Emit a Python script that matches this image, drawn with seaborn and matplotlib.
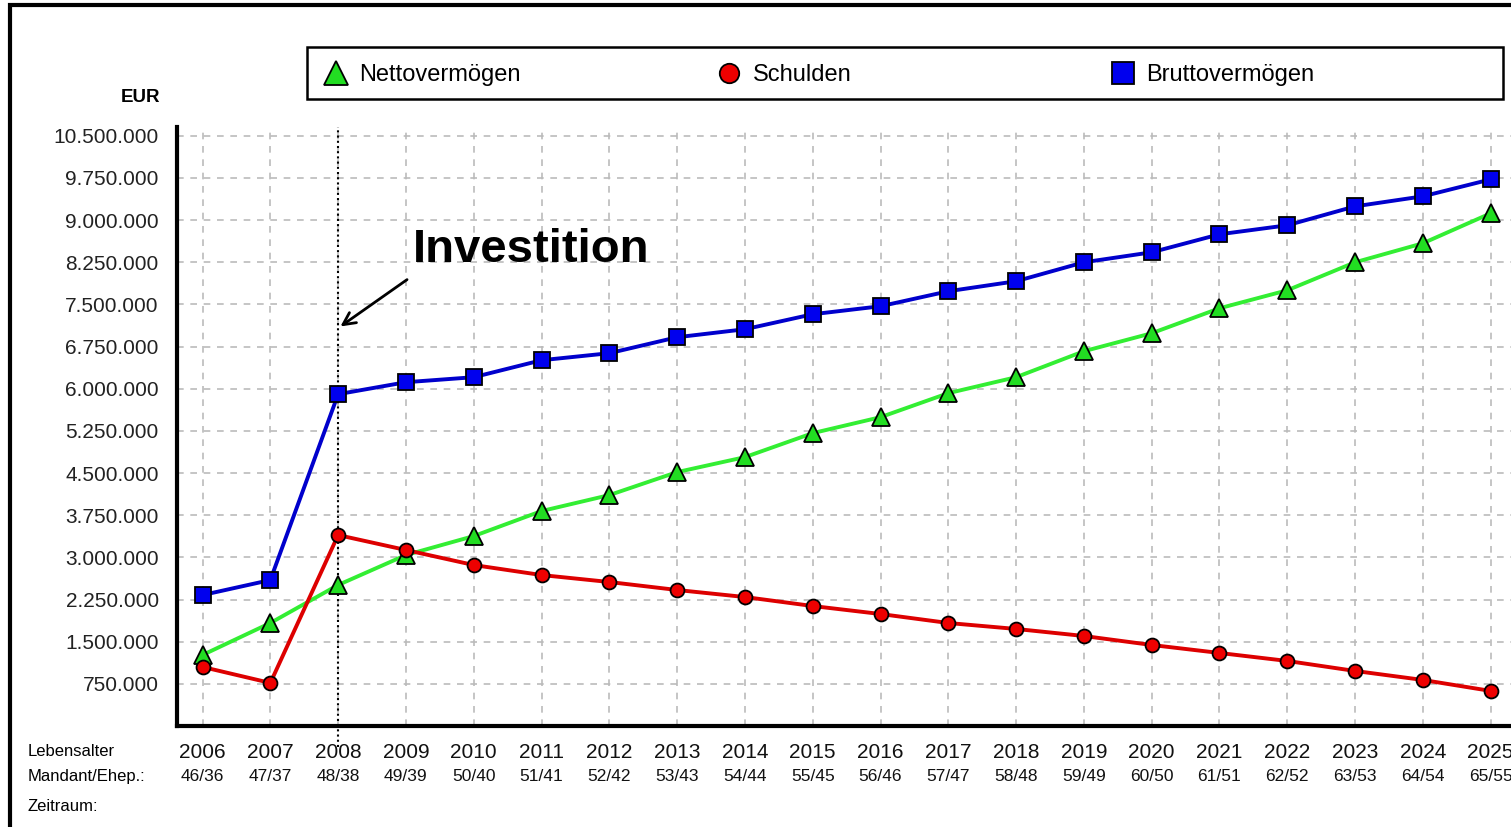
import seaborn as sns
import matplotlib.pyplot as plt
import matplotlib.patches as patches
from matplotlib.lines import Line2D
import pandas as pd

# data
years = list(range(2006, 2026))
ages = ["46/36", "47/37", "48/38", "49/39", "50/40", "51/41", "52/42", "53/43", "54/44", "55/45",
        "56/46", "57/47", "58/48", "59/49", "60/50", "61/51", "62/52", "63/53", "64/54", "65/55"]
netto = [1265000, 1834000, 2510000, 3043000, 3380000, 3825000, 4109000, 4518000, 4784000, 5211000,
         5495000, 5922000, 6206000, 6668000, 6988000, 7432000, 7752000, 8250000, 8588000, 9121000]
schulden = [1052000, 768000, 3398000, 3132000, 2865000, 2687000, 2563000, 2421000, 2296000, 2136000,
            1994000, 1834000, 1728000, 1603000, 1443000, 1301000, 1159000, 981000, 821000, 626000]
brutto = [2331000, 2598000, 5904000, 6117000, 6206000, 6508000, 6633000, 6917000, 7059000, 7326000,
          7468000, 7735000, 7913000, 8250000, 8428000, 8748000, 8908000, 9245000, 9423000, 9725000]
yticks = [750000 * i for i in range(1, 15)]
series = ["Nettovermögen", "Schulden", "Bruttovermögen"]

df = pd.DataFrame({"Jahr": years, "Nettovermögen": netto, "Schulden": schulden, "Bruttovermögen": brutto})
long = df.melt(id_vars="Jahr", var_name="Serie", value_name="EUR")

sns.set_style("white")
plt.rcParams["font.family"] = ["Liberation Sans", "DejaVu Sans"]
plt.rcParams["text.color"] = "black"

line_colors = {"Nettovermögen": "#33ee33", "Schulden": "#dd0000", "Bruttovermögen": "#0000cc"}
marker_colors = {"Nettovermögen": "#22dd22", "Schulden": "#ee0000", "Bruttovermögen": "#0000ee"}
markers = {"Nettovermögen": "^", "Schulden": "o", "Bruttovermögen": "s"}
msizes = {"Nettovermögen": 13, "Schulden": 10, "Bruttovermögen": 11.5}

fig = plt.figure(figsize=(15.11, 8.27), dpi=100)
ax = fig.add_axes([0.117, 0.122, 0.883, 0.724])

# dashed grid behind the lines
ax.set_axisbelow(True)
ax.grid(True, color="#bbbbbb", linestyle=(0, (4, 4)), linewidth=1.2)

for name in series:
    sub = long[long["Serie"] == name]
    sns.lineplot(data=sub, x="Jahr", y="EUR", ax=ax, color=line_colors[name], linewidth=2.8,
                 marker=markers[name], markersize=msizes[name], markerfacecolor=marker_colors[name],
                 markeredgecolor="black", markeredgewidth=1.3, legend=False, zorder=3)

ax.set_xlim(2005.62, 2025.3)
ax.set_ylim(0, 10650000)
ax.set_yticks(yticks)
ax.set_yticklabels([f"{v:,.0f}".replace(",", ".") for v in yticks], fontsize=15, color="#222222")
ax.set_xticks(years)
ax.set_xticklabels([str(y) for y in years], fontsize=15, color="#111111")
ax.tick_params(axis="both", length=0)
ax.tick_params(axis="y", pad=13)
ax.tick_params(axis="x", pad=12)
ax.set_xlabel("")
ax.set_ylabel("")

for s in ["top", "right"]:
    ax.spines[s].set_visible(False)
for s in ["left", "bottom"]:
    ax.spines[s].set_linewidth(3)
    ax.spines[s].set_color("black")

# age labels under the years
for y, a in zip(years, ages):
    ax.text(y, -0.085, a, transform=ax.get_xaxis_transform(), ha="center", va="center",
            fontsize=12.5, color="#111111")

# left side row captions
fig.text(0.018, 0.091, "Lebensalter", fontsize=12, va="center", ha="left")
fig.text(0.018, 0.061, "Mandant/Ehep.:", fontsize=12, va="center", ha="left")
fig.text(0.018, 0.025, "Zeitraum:", fontsize=12, va="center", ha="left")
fig.text(0.106, 0.8815, "EUR", fontsize=13.5, fontweight="bold", va="center", ha="right")

# investment marker
ax.axvline(2008, ymin=-0.035, ymax=1, color="black", linestyle=(0, (1, 1.5)), linewidth=1.5,
           clip_on=False, zorder=2)
ax.annotate("", xy=(2008, 7080000), xytext=(2009.05, 7970000),
            arrowprops=dict(arrowstyle="->", lw=2, color="black", mutation_scale=22))
ax.text(2009.1, 8460000, "Investition", fontsize=34, fontweight="bold", ha="left", va="center",
        color="black")

# legend: framed box with three evenly spaced entries
fig.patches.append(patches.Rectangle((307 / 1511, 1 - 99 / 827), 1196 / 1511, 52 / 827,
                                     transform=fig.transFigure, fill=False,
                                     edgecolor="black", linewidth=1.8))
leg_x = [324, 717, 1111]
for name, lx in zip(series, leg_x):
    h = Line2D([], [], linestyle="none", marker=markers[name], markersize=msizes[name] + 4,
               markerfacecolor=marker_colors[name], markeredgecolor="black", markeredgewidth=1.3)
    fig.legend([h], [name], loc="center left", bbox_to_anchor=(lx / 1511, 1 - 75 / 827),
               frameon=False, fontsize=17, handlelength=1.0, handletextpad=0.5,
               borderpad=0, borderaxespad=0)

# outer frame
fig.patches.append(patches.Rectangle((0.0066, -0.01), 1.0, 1.004, transform=fig.transFigure,
                                     fill=False, edgecolor="black", linewidth=3))

fig.savefig("out.png", dpi=100)
